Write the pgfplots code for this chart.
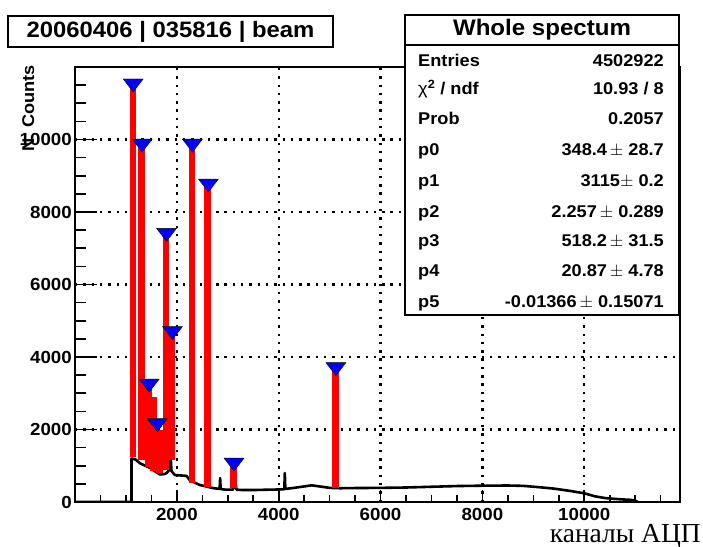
\documentclass[border=0pt]{standalone}
\usepackage{fontspec}
\setmainfont{Liberation Sans}[FakeStretch=1.07]
\newfontfamily\cyrserif{Liberation Serif}
\usepackage{pgfplots}
\pgfplotsset{compat=1.18}

\definecolor{rootblue}{RGB}{0,0,255}
\definecolor{rootred}{RGB}{255,0,0}

\begin{document}
\begin{tikzpicture}
\useasboundingbox (0,0) rectangle (703pt,546pt);
\begin{axis}[
    at={(75pt,44pt)}, anchor=south west,
    scale only axis, width=605pt, height=435pt,
    xmin=0, xmax=11880, ymin=0, ymax=12000,
    xtick={2000,4000,...,10000},
    ytick={0,2000,...,10000},
    minor xtick={500,1000,...,11500},
    minor ytick={500,1000,...,11500},
    xtick pos=bottom, ytick pos=left,
    tick align=inside,
    xtick style={/pgfplots/major tick length=12pt, /pgfplots/minor tick length=7pt},
    ytick style={/pgfplots/major tick length=22pt, /pgfplots/minor tick length=11pt},
    tick style={black, line width=1.6pt},
    axis line style={line width=2.4pt},
    xmajorgrids, ymajorgrids,
    grid style={black, line width=2.4pt, dash pattern=on 2.4pt off 5.9pt},
    scaled ticks=false,
    /pgf/number format/assume math mode=true,
    /pgf/number format/1000 sep={},
    tick label style={font=\bfseries\fontsize{17.5}{20}\selectfont},
    xticklabel style={inner sep=0pt, yshift=-6pt},
    yticklabel style={inner sep=0pt, xshift=-3pt},
]
% measured spectrum
\addplot[black, line width=2.6pt, line join=round] coordinates {
    (0,0) (1110,0) (1110,1200) (1190,1170) (1274,1070) (1470,940) (1666,760)
    (1760,770) (1800,800) (1860,900) (1880,1200) (1895,850) (1960,745)
    (2190,720) (2254,600) (2450,470) (2705,385) (2840,360) (2850,660)
    (2860,360) (2950,340) (3100,340) (3150,550) (3170,340) (3300,330)
    (3500,330) (3800,340) (4000,345) (4110,350) (4120,800) (4130,360)
    (4300,390) (4500,430) (4650,460) (4800,430) (5000,390) (5200,380)
    (5500,385) (6000,390) (6500,400) (7000,420) (7500,440) (8000,450)
    (8500,455) (8800,445) (9100,410) (9400,370) (9700,310) (10000,240)
    (10200,160) (10400,110) (10700,75) (10900,60) (11000,40) (11050,0)
};
% peak markers
\addplot[only marks, mark=triangle*, mark size=11.5pt,
    mark options={fill=rootblue, draw=none, rotate=180, yscale=0.75}] coordinates {
    (1143,11550) (1320,9890) (1457,3270) (1617,2180) (1797,7430)
    (1914,4720) (2306,9890) (2620,8790) (3123,1090) (5123,3725)
};
% fitted peaks
\addplot[rootred, line width=6.5pt] coordinates {(1143,1250) (1143,11550)};
\addplot[rootred, line width=6.5pt] coordinates {(1310,1160) (1310,9890)};
\addplot[rootred, line width=6.5pt] coordinates {(1440,975) (1440,3200)};
\addplot[rootred, line width=6.5pt] coordinates {(1545,850) (1545,2900)};
\addplot[rootred, line width=6.5pt] coordinates {(1660,800) (1660,2000)};
\addplot[rootred, line width=6.5pt] coordinates {(1784,880) (1784,7430)};
\addplot[rootred, line width=6.5pt] coordinates {(1895,1160) (1895,4700)};
\addplot[rootred, line width=6.5pt] coordinates {(2300,520) (2300,9890)};
\addplot[rootred, line width=6.5pt] coordinates {(2600,420) (2600,8790)};
\addplot[rootred, line width=6.5pt] coordinates {(3117,380) (3117,1090)};
\addplot[rootred, line width=6.5pt] coordinates {(5118,380) (5118,3720)};
\end{axis}

% y title
\node[rotate=90, anchor=base east, inner sep=0pt, font=\bfseries\fontsize{17}{19}\selectfont]
    at (34pt,481pt) {Counts};
\node[rotate=90, anchor=base west, inner sep=0pt, font=\bfseries\fontsize{17}{19}\selectfont]
    at (34pt,394pt) {N};
% x title
\node[anchor=base east, inner sep=0pt, font=\cyrserif\fontsize{27.5}{30}\selectfont]
    at (701pt,4pt) {каналы АЦП};

% title box
\node[draw, line width=1.6pt, fill=white, minimum width=325pt, minimum height=31pt,
    font=\bfseries\fontsize{22.3}{24}\selectfont] at (170.5pt,514.5pt)
    {20060406 | 035816 | beam};

% stats box
\draw[fill=white, line width=1.6pt] (405pt,531pt) rectangle (679pt,231pt);
\draw[line width=1.6pt] (405pt,501pt) -- (679pt,501pt);
\node[font=\bfseries\fontsize{22.5}{25}\selectfont] at (542pt,516pt) {Whole spectum};
\begin{scope}[every node/.style={font=\bfseries\fontsize{17}{19}\selectfont, inner sep=0pt}]
\node[anchor=base west] at (418pt,479.4pt) {Entries};
\node[anchor=base east] at (664pt,479.4pt) {4502922};
\node[anchor=base west] at (418pt,451.1pt) {{\mdseries χ}\textsuperscript{2} / ndf};
\node[anchor=base east] at (664pt,451.1pt) {10.93 / 8};
\node[anchor=base west] at (418pt,421.6pt) {Prob};
\node[anchor=base east] at (664pt,421.6pt) {0.2057};
\node[anchor=base west] at (418pt,390.1pt) {p0};
\node[anchor=base east] at (664pt,390.1pt) {348.4\,$\pm$ 28.7};
\node[anchor=base west] at (418pt,359.1pt) {p1};
\node[anchor=base east] at (664pt,359.1pt) {3115$\pm$ 0.2};
\node[anchor=base west] at (418pt,328.6pt) {p2};
\node[anchor=base east] at (664pt,328.6pt) {2.257\,$\pm$ 0.289};
\node[anchor=base west] at (418pt,299.6pt) {p3};
\node[anchor=base east] at (664pt,299.6pt) {518.2\,$\pm$ 31.5};
\node[anchor=base west] at (418pt,269.6pt) {p4};
\node[anchor=base east] at (664pt,269.6pt) {20.87\,$\pm$ 4.78};
\node[anchor=base west] at (418pt,238.6pt) {p5};
\node[anchor=base east] at (664pt,238.6pt) {-0.01366\,$\pm$ 0.15071};
\end{scope}
\end{tikzpicture}
\end{document}
